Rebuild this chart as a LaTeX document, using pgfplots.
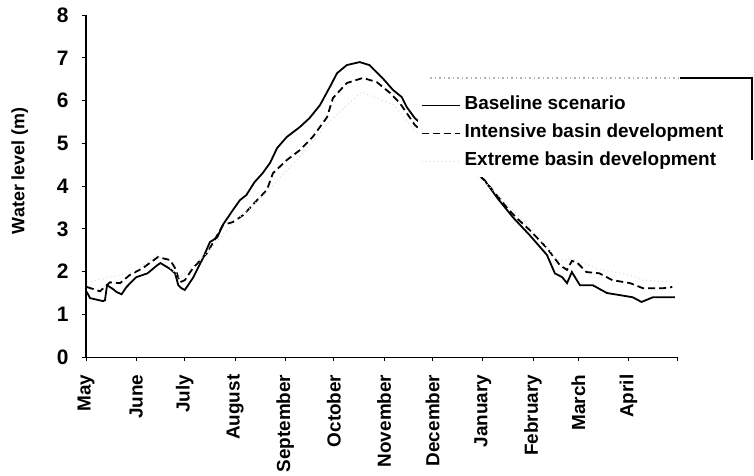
\documentclass[border=0pt]{standalone}
\usepackage{fontspec}
\setmainfont{Liberation Sans}
\usepackage{pgfplots}
\pgfplotsset{compat=1.18}

% day 0 = 1 May
\pgfplotstableread{
d v
0.4 1.53
2.5 1.38
10.5 1.31
11.7 1.33
13 1.68
16 1.61
19 1.52
22 1.47
25 1.64
31 1.87
38 1.96
44 2.15
46 2.20
52 2.06
55 1.96
57 1.68
59 1.61
61 1.57
66 1.85
72 2.30
76.5 2.69
81 2.80
84.6 3.10
90.7 3.44
95 3.67
99 3.79
104 4.09
109 4.30
113.6 4.54
118 4.89
124 5.15
132 5.38
138 5.59
144.4 5.89
150.6 6.32
155 6.64
161 6.83
169 6.90
175 6.83
183 6.53
189.5 6.25
195 6.08
198 5.85
203 5.59
215 5.20
230 4.70
246 4.14
254 3.72
263.6 3.27
274 2.85
284.6 2.39
289.5 1.96
294 1.87
297 1.73
300 1.99
305 1.68
313 1.68
321.6 1.50
329.6 1.45
337.6 1.40
343 1.29
350 1.40
363.6 1.40
}\baseline

\pgfplotstableread{
d v
0.6 1.64
8.6 1.54
14.8 1.75
21 1.73
27 1.92
35 2.08
44.4 2.34
52 2.27
55 2.08
58 1.75
61 1.80
66 2.08
74.7 2.43
84.6 3.09
90.7 3.16
97 3.32
105.6 3.67
111.7 3.91
115.4 4.30
124 4.61
132 4.84
140 5.15
148.8 5.61
152.5 6.06
161 6.41
171 6.53
179.6 6.43
187.7 6.18
193.8 5.94
198 5.71
203 5.43
215 5.05
230 4.60
246 4.14
260 3.49
266 3.25
274 2.97
284.6 2.55
292.6 2.15
297 2.04
300 2.25
303 2.22
309 1.99
317 1.96
325 1.80
336 1.73
344 1.61
356 1.61
362 1.64
}\intensive

\pgfplotstableread{
d v
0.6 1.75
30 2.00
44 2.40
58 1.85
75 2.45
90 3.10
110 3.80
130 4.60
150 5.50
170 6.20
190 5.90
203 5.30
246 4.10
275 3.00
292 2.25
300 2.30
317 2.05
336 1.92
344 1.80
362 1.76
}\extreme

\begin{document}
\begin{tikzpicture}
\begin{axis}[
    scale only axis,
    width=591bp,
    height=342bp,
    xmin=0, xmax=365,
    ymin=0, ymax=8,
    clip=false,
    axis x line*=bottom,
    axis y line*=left,
    axis line style={line width=1.1bp},
    tick align=outside,
    major tick length=4bp,
    tick style={line width=1bp, black},
    xtick={0,31,61,92,123,153,184,214,245,276,304,335,365},
    xticklabels={May,June,July,August,September,October,November,December,January,February,March,April,{}},
    ytick={0,1,...,8},
    /pgf/number format/assume math mode=true,
    xticklabel style={rotate=90, anchor=east, xshift=-10bp, font=\fontsize{19}{22}\selectfont\bfseries},
    yticklabel style={xshift=-10bp, font=\fontsize{21}{24}\selectfont\bfseries},
    legend style={at={(axis description cs:0.566,0.767)}, anchor=north west,
        draw=none, fill=none, inner sep=0pt, row sep=7bp, column sep=3bp,
        font=\fontsize{19}{22}\selectfont\bfseries,
        nodes={inner sep=1bp, text height=14bp, text depth=5bp}},
    legend cell align=left,
    legend image code/.code={\draw[#1] (0bp,0bp) -- (38bp,0bp);},
]
\addplot[black, line width=1.8bp] table[x=d, y=v] {\baseline};
\addplot[black, line width=1.8bp, dash pattern=on 7bp off 4bp] table[x=d, y=v] {\intensive};
\addplot[black!15, line width=1bp, dash pattern=on 1bp off 3bp] table[x=d, y=v] {\extreme};
\legend{Baseline scenario, Intensive basin development, Extreme basin development}

% legend box covering the curves
\fill[white] (axis description cs:0.562,0.526) rectangle (axis description cs:1.128,0.819);
\draw[black!30, line width=1bp, dash pattern=on 1.5bp off 3bp] (axis description cs:0.582,0.816) -- (axis description cs:1.005,0.816);
\draw[black, line width=1.6bp] (axis description cs:1.005,0.816) -- (axis description cs:1.127,0.816) -- (axis description cs:1.127,0.576);

\node[rotate=90, font=\fontsize{18}{21}\selectfont\bfseries] at (axis description cs:-0.112,0.545) {Water level (m)};

\path (axis description cs:-0.1455,-0.330) rectangle (axis description cs:1.130,1.044);
\end{axis}
\end{tikzpicture}
\end{document}
